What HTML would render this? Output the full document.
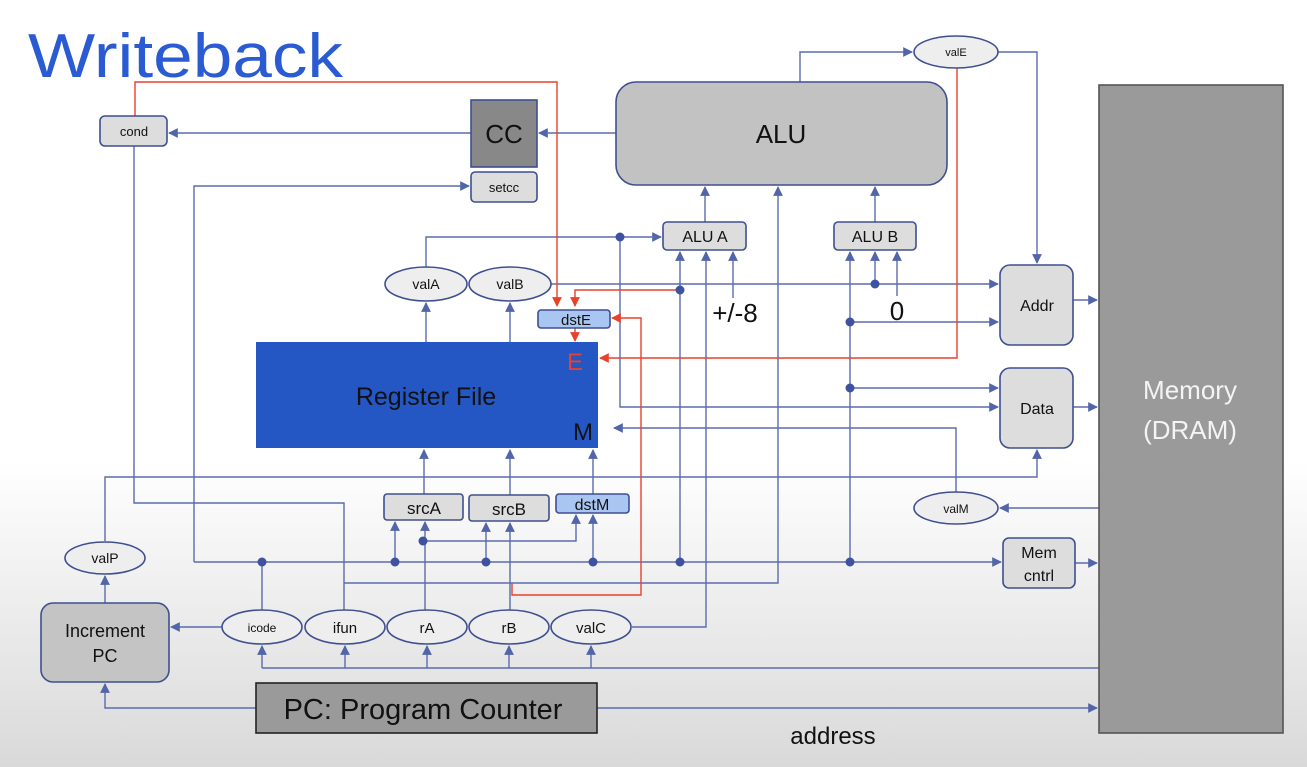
<!DOCTYPE html>
<html><head><style>
html,body{margin:0;padding:0;width:1307px;height:767px;overflow:hidden;background:#fff}
svg{display:block}
text{font-family:"Liberation Sans",sans-serif}
</style></head><body>
<svg width="1307" height="767" viewBox="0 0 1307 767">
<defs>
<linearGradient id="bg" x1="0" y1="0" x2="0" y2="1">
<stop offset="0" stop-color="#fff"/><stop offset="0.6" stop-color="#fff"/><stop offset="1" stop-color="#d9d9d9"/>
</linearGradient>
<marker id="a" viewBox="0 0 10 10" refX="9" refY="5" markerWidth="7" markerHeight="7" orient="auto-start-reverse"><path d="M0,0L10,5L0,10z" fill="#5165a8"/></marker>
<marker id="r" viewBox="0 0 10 10" refX="9" refY="5" markerWidth="7" markerHeight="7" orient="auto-start-reverse"><path d="M0,0L10,5L0,10z" fill="#e8412c"/></marker>
</defs>
<rect width="1307" height="767" fill="url(#bg)"/>
<text x="28" y="77" font-size="62" fill="#2a5bd2" textLength="315" lengthAdjust="spacingAndGlyphs">Writeback</text>

<g fill="none" stroke="#5a6cae" stroke-width="1.4">
<path d="M616,133H539" marker-end="url(#a)"/>
<path d="M471,133H169" marker-end="url(#a)"/>
<path d="M800,82V52H912" marker-end="url(#a)"/>
<path d="M998,52H1037V263" marker-end="url(#a)"/>
<path d="M194,562V186H469" marker-end="url(#a)"/>
<path d="M134,146V503H344V610"/>
<path d="M194,562H1001" marker-end="url(#a)"/>
<path d="M423,541H576V515" marker-end="url(#a)"/>
<path d="M425,610V522" marker-end="url(#a)"/>
<path d="M395,562V522" marker-end="url(#a)"/>
<path d="M486,562V523" marker-end="url(#a)"/>
<path d="M510,610V523" marker-end="url(#a)"/>
<path d="M593,562V515" marker-end="url(#a)"/>
<path d="M262,562V610"/>
<path d="M344,583H778V187" marker-end="url(#a)"/>
<path d="M105,541V477H1037V450" marker-end="url(#a)"/>
<path d="M1099,668H262"/>
<path d="M262,668V646" marker-end="url(#a)"/>
<path d="M345,668V646" marker-end="url(#a)"/>
<path d="M427,668V646" marker-end="url(#a)"/>
<path d="M509,668V646" marker-end="url(#a)"/>
<path d="M591,668V646" marker-end="url(#a)"/>
<path d="M256,708H105V684" marker-end="url(#a)"/>
<path d="M597,708H1097" marker-end="url(#a)"/>
<path d="M222,627H171" marker-end="url(#a)"/>
<path d="M105,603V576" marker-end="url(#a)"/>
<path d="M632,627H706V252" marker-end="url(#a)"/>
<path d="M680,562V252" marker-end="url(#a)"/>
<path d="M733,298V252" marker-end="url(#a)"/>
<path d="M850,562V252" marker-end="url(#a)"/>
<path d="M875,284V252" marker-end="url(#a)"/>
<path d="M897,296V252" marker-end="url(#a)"/>
<path d="M426,267V237H661" marker-end="url(#a)"/>
<path d="M620,237V407H998" marker-end="url(#a)"/>
<path d="M551,284H998" marker-end="url(#a)"/>
<path d="M850,322H998" marker-end="url(#a)"/>
<path d="M850,388H998" marker-end="url(#a)"/>
<path d="M705,222V187" marker-end="url(#a)"/>
<path d="M875,222V187" marker-end="url(#a)"/>
<path d="M1073,300H1097" marker-end="url(#a)"/>
<path d="M1073,407H1097" marker-end="url(#a)"/>
<path d="M1075,563H1097" marker-end="url(#a)"/>
<path d="M1099,508H1000" marker-end="url(#a)"/>
<path d="M956,492V428H614" marker-end="url(#a)"/>
<path d="M426,342V303" marker-end="url(#a)"/>
<path d="M510,342V303" marker-end="url(#a)"/>
<path d="M424,494V450" marker-end="url(#a)"/>
<path d="M510,495V450" marker-end="url(#a)"/>
<path d="M593,494V450" marker-end="url(#a)"/>
</g>
<g fill="none" stroke="#e8412c" stroke-width="1.4">
<path d="M135,116V82H557V306" marker-end="url(#r)"/>
<path d="M679,290H575V306" marker-end="url(#r)"/>
<path d="M575,328V341" marker-end="url(#r)"/>
<path d="M957,68V358H600" marker-end="url(#r)"/>
<path d="M512,583V595H641V318H612" marker-end="url(#r)"/>
</g>
<g fill="#3e52a0">
<circle cx="620" cy="237" r="4.5"/><circle cx="680" cy="290" r="4.5"/><circle cx="875" cy="284" r="4.5"/>
<circle cx="850" cy="322" r="4.5"/><circle cx="850" cy="388" r="4.5"/>
<circle cx="262" cy="562" r="4.5"/><circle cx="395" cy="562" r="4.5"/><circle cx="486" cy="562" r="4.5"/>
<circle cx="593" cy="562" r="4.5"/><circle cx="680" cy="562" r="4.5"/><circle cx="850" cy="562" r="4.5"/>
<circle cx="423" cy="541" r="4.5"/>
</g>

<g stroke="#3f4f8f" stroke-width="1.6">
<rect x="100" y="116" width="67" height="30" rx="5" fill="#ddd"/>
<rect x="471" y="100" width="66" height="67" fill="#888"/>
<rect x="471" y="172" width="66" height="30" rx="4" fill="#ddd"/>
<rect x="616" y="82" width="331" height="103" rx="20" fill="#c2c2c2"/>
<rect x="663" y="222" width="83" height="28" rx="4" fill="#ddd"/>
<rect x="834" y="222" width="82" height="28" rx="4" fill="#ddd"/>
<rect x="538" y="310" width="72" height="18" rx="3" fill="#a9c5f1"/>
<rect x="1000" y="265" width="73" height="80" rx="10" fill="#ddd"/>
<rect x="1000" y="368" width="73" height="80" rx="10" fill="#ddd"/>
<rect x="1003" y="538" width="72" height="50" rx="6" fill="#ddd"/>
<rect x="384" y="494" width="79" height="26" rx="3" fill="#ddd"/>
<rect x="469" y="495" width="80" height="26" rx="3" fill="#ddd"/>
<rect x="556" y="494" width="73" height="19" rx="3" fill="#a9c5f1"/>
<rect x="41" y="603" width="128" height="79" rx="12" fill="#c4c4c4"/>
<rect x="1099" y="85" width="184" height="648" fill="#9a9a9a" stroke="#555"/>
<rect x="256" y="683" width="341" height="50" fill="#9a9a9a" stroke="#222"/>
<ellipse cx="956" cy="52" rx="42" ry="16" fill="#eee"/>
<ellipse cx="426" cy="284" rx="41" ry="17" fill="#eee"/>
<ellipse cx="510" cy="284" rx="41" ry="17" fill="#eee"/>
<ellipse cx="956" cy="508" rx="42" ry="16" fill="#eee"/>
<ellipse cx="105" cy="558" rx="40" ry="16" fill="#eee"/>
<ellipse cx="262" cy="627" rx="40" ry="17" fill="#eee"/>
<ellipse cx="345" cy="627" rx="40" ry="17" fill="#eee"/>
<ellipse cx="427" cy="627" rx="40" ry="17" fill="#eee"/>
<ellipse cx="509" cy="627" rx="40" ry="17" fill="#eee"/>
<ellipse cx="591" cy="627" rx="40" ry="17" fill="#eee"/>
</g>
<rect x="256" y="342" width="342" height="106" fill="#2456c4"/>

<g text-anchor="middle" fill="#111">
<text x="134" y="136" font-size="13">cond</text>
<text x="504" y="143" font-size="26">CC</text>
<text x="504" y="192" font-size="13">setcc</text>
<text x="781" y="143" font-size="26">ALU</text>
<text x="956" y="56" font-size="11">valE</text>
<text x="705" y="242" font-size="16">ALU A</text>
<text x="875" y="242" font-size="16">ALU B</text>
<text x="426" y="289" font-size="14">valA</text>
<text x="510" y="289" font-size="14">valB</text>
<text x="576" y="325" font-size="15">dstE</text>
<text x="735" y="322" font-size="26">+/-8</text>
<text x="897" y="320" font-size="26">0</text>
<text x="426" y="405" font-size="25">Register File</text>
<text x="575" y="370" font-size="24" fill="#e8412c">E</text>
<text x="583" y="440" font-size="24">M</text>
<text x="1037" y="311" font-size="16">Addr</text>
<text x="1037" y="414" font-size="16">Data</text>
<text x="1190" y="399" font-size="26" fill="#f4f4f4">Memory</text>
<text x="1190" y="439" font-size="26" fill="#f4f4f4">(DRAM)</text>
<text x="956" y="513" font-size="12">valM</text>
<text x="1039" y="558" font-size="16">Mem</text>
<text x="1039" y="581" font-size="16">cntrl</text>
<text x="424" y="514" font-size="17">srcA</text>
<text x="509" y="515" font-size="17">srcB</text>
<text x="592" y="510" font-size="16">dstM</text>
<text x="105" y="563" font-size="14">valP</text>
<text x="105" y="637" font-size="18">Increment</text>
<text x="105" y="662" font-size="18">PC</text>
<text x="262" y="632" font-size="12">icode</text>
<text x="345" y="633" font-size="15">ifun</text>
<text x="427" y="633" font-size="15">rA</text>
<text x="509" y="633" font-size="15">rB</text>
<text x="591" y="633" font-size="15">valC</text>
<text x="423" y="719" font-size="29">PC: Program Counter</text>
<text x="833" y="744" font-size="24">address</text>
</g>
</svg>
</body></html>
